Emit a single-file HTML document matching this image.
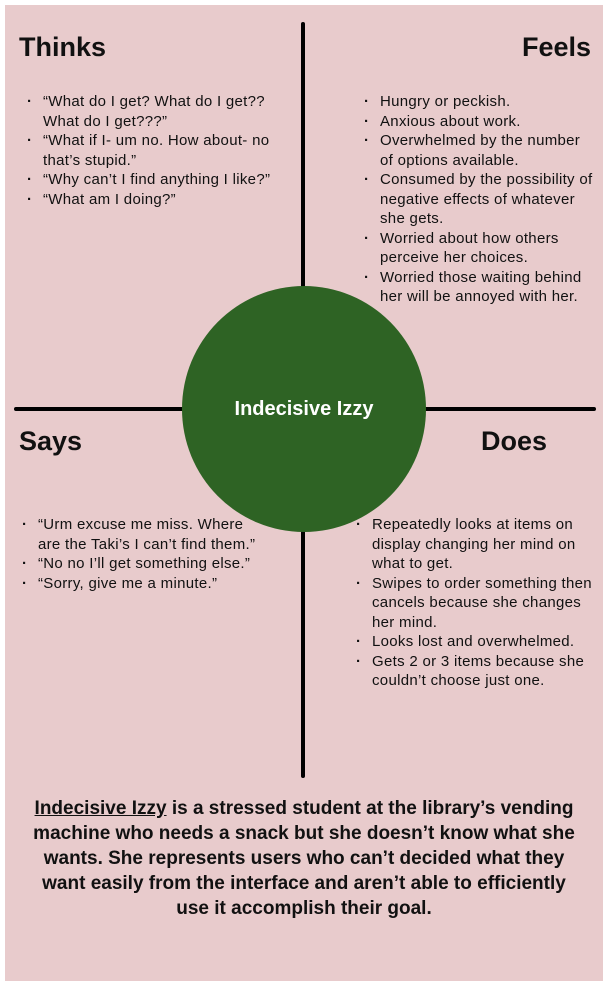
<!DOCTYPE html>
<html><head><style>
body{margin:0;background:#fff;}
#c{position:absolute;left:5px;top:5px;width:598px;height:976px;background:#e8cbcc;overflow:hidden;font-family:"Liberation Sans",sans-serif;color:#111;}
.t{position:absolute;font-weight:bold;font-size:27px;}
ul{position:absolute;margin:0;padding:0;list-style:none;font-size:15px;line-height:19.5px;white-space:nowrap;letter-spacing:0.3px;}
li{position:relative;}
li:before{content:"·";position:absolute;left:-16px;font-weight:bold;}
.vl{position:absolute;left:296px;top:17px;width:4px;height:756px;background:#000;border-radius:2px;}
.hl{position:absolute;left:9px;top:402px;width:582px;height:4px;background:#000;border-radius:2px;}
.circ{position:absolute;left:177px;top:281px;width:244px;height:246px;border-radius:50%;background:#2e6324;color:#fff;font-size:20px;font-weight:bold;display:flex;align-items:center;justify-content:center;}
.p{position:absolute;left:0;top:791px;width:598px;text-align:center;font-size:19px;line-height:25px;font-weight:bold;white-space:nowrap;letter-spacing:0;}
</style></head><body><div id="c">
<div class="vl"></div><div class="hl"></div>
<div class="circ">Indecisive Izzy</div>
<div class="t" style="left:14px;top:27px">Thinks</div>
<div class="t" style="right:12px;top:27px">Feels</div>
<div class="t" style="left:14px;top:421px">Says</div>
<div class="t" style="left:476px;top:421px">Does</div>
<ul style="left:38px;top:87px">
<li>“What do I get? What do I get??<br>What do I get???”</li>
<li>“What if I- um no. How about- no<br>that’s stupid.”</li>
<li>“Why can’t I find anything I like?”</li>
<li>“What am I doing?”</li></ul>
<ul style="left:375px;top:87px">
<li>Hungry or peckish.</li>
<li>Anxious about work.</li>
<li>Overwhelmed by the number<br>of options available.</li>
<li>Consumed by the possibility of<br>negative effects of whatever<br>she gets.</li>
<li>Worried about how others<br>perceive her choices.</li>
<li>Worried those waiting behind<br>her will be annoyed with her.</li></ul>
<ul style="left:33px;top:510px">
<li>“Urm excuse me miss. Where<br>are the Taki’s I can’t find them.”</li>
<li>“No no I’ll get something else.”</li>
<li>“Sorry, give me a minute.”</li></ul>
<ul style="left:367px;top:510px">
<li>Repeatedly looks at items on<br>display changing her mind on<br>what to get.</li>
<li>Swipes to order something then<br>cancels because she changes<br>her mind.</li>
<li>Looks lost and overwhelmed.</li>
<li>Gets 2 or 3 items because she<br>couldn’t choose just one.</li></ul>
<div class="p"><u>Indecisive Izzy</u> is a stressed student at the library’s vending<br>machine who needs a snack but she doesn’t know what she<br>wants. She represents users who can’t decided what they<br>want easily from the interface and aren’t able to efficiently<br>use it accomplish their goal.</div>
</div></body></html>
